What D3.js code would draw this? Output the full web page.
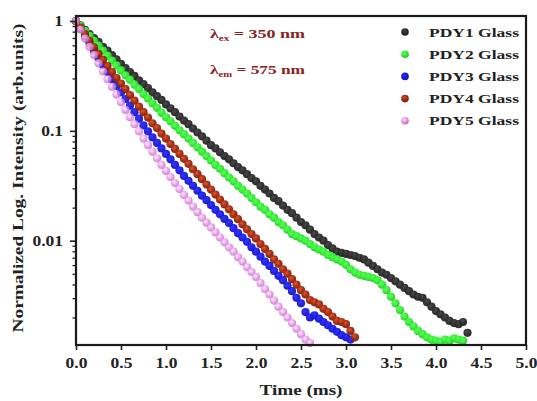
<!DOCTYPE html>
<html><head><meta charset="utf-8">
<script src="https://cdn.jsdelivr.net/npm/d3@7"></script>
<style>body{margin:0;background:#fff}svg{display:block}text{font-family:"Liberation Serif","Times New Roman",serif;font-weight:bold}</style>
</head><body><svg id="c" width="537" height="401"></svg>
<script>
const times = [0,0.05,0.1,0.15,0.2,0.25,0.3,0.35,0.4,0.45,0.5,0.55,0.6,0.65,0.7,0.75,0.8,0.85,0.9,0.95,1.0,1.05,1.1,1.15,1.2,1.25,1.3,1.35,1.4,1.45,1.5,1.55,1.6,1.65,1.7,1.75,1.8,1.85,1.9,1.95,2.0,2.05,2.1,2.15,2.2,2.25,2.3,2.35,2.4,2.45,2.5,2.55,2.6,2.65,2.7,2.75,2.8,2.85,2.9,2.95,3.0,3.05,3.1,3.15,3.2,3.25,3.3,3.35,3.4,3.45,3.5,3.55,3.6,3.65,3.7,3.75,3.8,3.85,3.9,3.95,4.0,4.05,4.1,4.15,4.2,4.25,4.3,4.35];
const pdy1 = [1,0.912,0.832,0.759,0.700,0.646,0.582,0.537,0.490,0.447,0.407,0.372,0.343,0.316,0.288,0.266,0.245,0.224,0.207,0.191,0.174,0.160,0.148,0.135,0.124,0.115,0.105,0.0966,0.0891,0.0813,0.0741,0.0692,0.0638,0.0589,0.0550,0.0507,0.0468,0.0437,0.0403,0.0372,0.0347,0.0316,0.0292,0.0269,0.0245,0.0229,0.0209,0.0191,0.0178,0.0162,0.0148,0.0138,0.0126,0.0115,0.0107,0.0100,0.00912,0.00851,0.00794,0.00776,0.00759,0.00741,0.00724,0.00700,0.00676,0.00631,0.00589,0.00550,0.00513,0.00490,0.00457,0.00427,0.00398,0.00372,0.00347,0.00324,0.00309,0.00302,0.00275,0.00251,0.00229,0.00214,0.00200,0.00186,0.00178,0.00174,0.00182,0.00145];
const pdy2 = [1,0.902,0.813,0.733,0.661,0.596,0.537,0.484,0.437,0.394,0.355,0.320,0.292,0.263,0.240,0.216,0.197,0.178,0.162,0.146,0.133,0.122,0.111,0.101,0.0933,0.0851,0.0776,0.0708,0.0646,0.0589,0.0537,0.0490,0.0452,0.0412,0.0376,0.0347,0.0316,0.0292,0.0269,0.0245,0.0224,0.0204,0.0191,0.0174,0.0162,0.0148,0.0138,0.0126,0.0115,0.0110,0.0105,0.0100,0.00933,0.00871,0.00832,0.00794,0.00741,0.00708,0.00676,0.00646,0.00603,0.00550,0.00513,0.00490,0.00479,0.00468,0.00457,0.00437,0.00398,0.00355,0.00309,0.00269,0.00234,0.00204,0.00182,0.00166,0.00151,0.00141,0.00132,0.00126,0.00123,0.00120,0.00126,0.00123,0.00129,0.00126,0.00123];
const pdy3 = [1,0.851,0.724,0.624,0.537,0.457,0.398,0.343,0.295,0.257,0.224,0.195,0.170,0.148,0.129,0.112,0.0989,0.0871,0.0776,0.0692,0.0617,0.0550,0.0490,0.0437,0.0389,0.0351,0.0316,0.0285,0.0257,0.0234,0.0211,0.0191,0.0174,0.0158,0.0145,0.0130,0.0117,0.0107,0.00977,0.00871,0.00794,0.00716,0.00646,0.00589,0.00531,0.00479,0.00437,0.00389,0.00347,0.00302,0.00269,0.00224,0.00200,0.00209,0.00195,0.00182,0.00170,0.00158,0.00148,0.00138,0.00132,0.00126];
const pdy4 = [1,0.871,0.759,0.661,0.575,0.501,0.442,0.389,0.343,0.302,0.269,0.240,0.211,0.188,0.166,0.148,0.132,0.117,0.106,0.0944,0.0851,0.0759,0.0684,0.0617,0.0556,0.0501,0.0447,0.0403,0.0363,0.0324,0.0292,0.0263,0.0237,0.0214,0.0193,0.0174,0.0157,0.0141,0.0127,0.0115,0.0105,0.00933,0.00841,0.00759,0.00676,0.00617,0.00550,0.00501,0.00447,0.00398,0.00355,0.00324,0.00288,0.00275,0.00263,0.00240,0.00224,0.00204,0.00186,0.00182,0.00174,0.00151,0.00132];
const pdy5 = [1,0.832,0.692,0.582,0.490,0.412,0.347,0.295,0.251,0.214,0.182,0.155,0.133,0.115,0.0989,0.0851,0.0741,0.0646,0.0562,0.0490,0.0432,0.0380,0.0335,0.0295,0.0260,0.0232,0.0204,0.0182,0.0162,0.0146,0.0132,0.0119,0.0107,0.00966,0.00871,0.00794,0.00708,0.00646,0.00575,0.00519,0.00468,0.00412,0.00363,0.00324,0.00285,0.00251,0.00224,0.00200,0.00178,0.00158,0.00141,0.00126,0.00117];
const seriesNames = ["PDY1 Glass","PDY2 Glass","PDY3 Glass","PDY4 Glass","PDY5 Glass"];
const seriesColors = ["#2a2a2a","#33f033","#1a1ae6","#9a2a10","#e890e8"];
const xTicks = [0,0.5,1,1.5,2,2.5,3,3.5,4,4.5,5];
const xTickLabels = ["0.0","0.5","1.0","1.5","2.0","2.5","3.0","3.5","4.0","4.5","5.0"];
const yTicks = [1,0.1,0.01];
const yTickLabels = ["1","0.1","0.01"];

const svg = d3.select("#c");
const L=76,R=526,T=16,B=345;
const x = d3.scaleLinear().domain([0,5]).range([L,R]);
const y = d3.scaleLog().domain([0.001124,1.11]).range([B,T]);
const stretch = (sel,f)=>sel.each(function(){const w=this.getComputedTextLength(); d3.select(this).attr("textLength",w*f).attr("lengthAdjust","spacingAndGlyphs");});

const defs = svg.append("defs");
seriesColors.forEach((c,i)=>{
  const g = defs.append("radialGradient").attr("id","g"+i).attr("cx","40%").attr("cy","35%").attr("r","65%");
  g.append("stop").attr("offset","0%").attr("stop-color",d3.color(c).brighter(1.3));
  g.append("stop").attr("offset","55%").attr("stop-color",c);
  g.append("stop").attr("offset","100%").attr("stop-color",d3.color(c).darker(0.7));
});

const data = [pdy1,pdy2,pdy3,pdy4,pdy5];
data.forEach((vals,i)=>{
  svg.append("g").selectAll("circle").data(vals).join("circle")
    .attr("cx",(d,j)=>x(times[j])).attr("cy",d=>y(d)).attr("r",4.1)
    .attr("fill","url(#g"+i+")").attr("fill-opacity", i===4?0.8:0.95);
});

const xAxis = d3.axisBottom(x).tickValues(xTicks).tickFormat((d,i)=>xTickLabels[i]).tickSize(5).tickSizeOuter(0);
const gx = svg.append("g").attr("transform",`translate(0,${B})`).call(xAxis);
gx.selectAll("text").attr("font-size",14).attr("dy","1.05em").attr("fill","#222").call(stretch,1.25);
gx.selectAll("line").attr("stroke-width",1.6).attr("stroke","#222");
gx.select(".domain").remove();

const minor = [];
[0.001,0.01,0.1].forEach(b=>{for(let k=2;k<=9;k++){const v=b*k; if(v>=0.001124&&v<=1.11) minor.push(v);}});
const yAxis = d3.axisLeft(y).tickValues(yTicks).tickFormat((d,i)=>yTickLabels[i]).tickSize(6).tickSizeOuter(0);
const gy = svg.append("g").attr("transform",`translate(${L},0)`).call(yAxis);
gy.selectAll("text").attr("font-size",14).attr("fill","#222").attr("x",-13).call(stretch,1.25);
gy.selectAll("line").attr("stroke-width",1.6).attr("stroke","#222");
gy.select(".domain").remove();
svg.append("g").attr("transform",`translate(${L},0)`).call(d3.axisLeft(y).tickValues(minor).tickFormat("").tickSize(3.5).tickSizeOuter(0))
  .call(g=>{g.select(".domain").remove(); g.selectAll("line").attr("stroke","#222").attr("stroke-width",1.3);});

svg.append("rect").attr("x",L).attr("y",T).attr("width",R-L).attr("height",B-T)
  .attr("fill","none").attr("stroke","#1a1a1a").attr("stroke-width",2.2);

svg.append("text").attr("x",301).attr("y",395).attr("text-anchor","middle").attr("font-size",14.5).attr("fill","#222").text("Time (ms)").attr("textLength",83).attr("lengthAdjust","spacingAndGlyphs");
svg.append("text").attr("transform","translate(23,178) rotate(-90)").attr("text-anchor","middle").attr("font-size",14).attr("fill","#222").text("Normalized Log. Intensity (arb.units)").attr("textLength",309).attr("lengthAdjust","spacingAndGlyphs");

const ann = [["ex","350"],["em","575"]];
ann.forEach((a,i)=>{
  const t = svg.append("text").attr("x",210).attr("y",38+i*36).attr("font-size",13).attr("fill","#8b2222")
    .attr("textLength",95).attr("lengthAdjust","spacingAndGlyphs");
  t.append("tspan").text("λ");
  t.append("tspan").attr("font-size",8).attr("dy",3).text(a[0]);
  t.append("tspan").attr("dy",-3).text(" = "+a[1]+" nm");
});

seriesNames.forEach((n,i)=>{
  const yy = 32 + i*22.2;
  svg.append("circle").attr("cx",405).attr("cy",yy).attr("r",3.8).attr("fill","url(#g"+i+")");
  svg.append("text").attr("x",429).attr("y",yy+4.5).attr("font-size",13.5).attr("fill","#222").text(n)
    .attr("textLength",90).attr("lengthAdjust","spacingAndGlyphs");
});
</script></body></html>
